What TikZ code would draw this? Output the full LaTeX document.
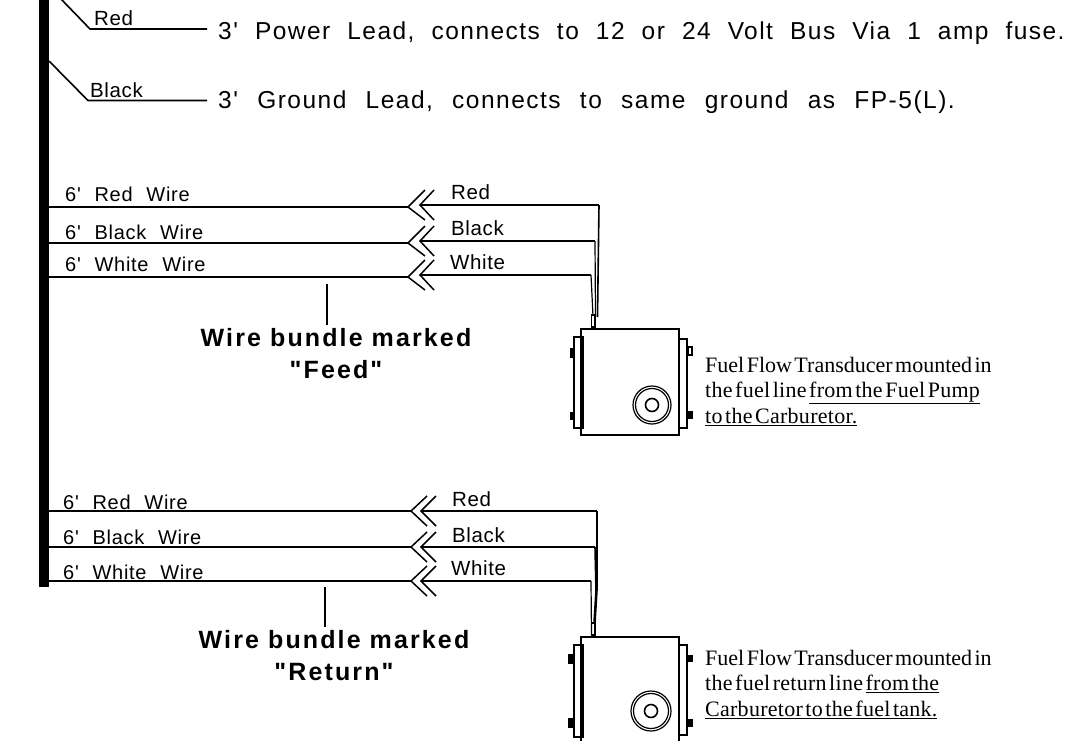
\documentclass[tikz,border=0pt]{standalone}
\usepackage{fontspec}
\setmainfont{Liberation Sans}
\newfontfamily\notefont[WordSpace=0.45]{Liberation Serif}
\newfontfamily\notewidefont[WordSpace=0.45,LetterSpace=1.2]{Liberation Serif}
\newfontfamily\leadfont[LetterSpace=6,WordSpace=2.06]{Liberation Sans}
\newfontfamily\groundfont[LetterSpace=6.1,WordSpace=2.32]{Liberation Sans}
\newfontfamily\wirefont[WordSpace=2.2,LetterSpace=3.5]{Liberation Sans}
\newfontfamily\colorfont[LetterSpace=3]{Liberation Sans}
\newfontfamily\markfont[LetterSpace=8.5]{Liberation Sans Bold}
\usepackage{tikz}

\tikzset{
  wire/.style={line width=1.6pt},
  thinwire/.style={line width=1.2pt},
  leadtext/.style={anchor=base west,inner sep=0pt,font=\leadfont\fontsize{24.5}{28}\selectfont},
  groundtext/.style={anchor=base west,inner sep=0pt,font=\groundfont\fontsize{24.5}{28}\selectfont},
  wiretext/.style={anchor=base west,inner sep=0pt,font=\wirefont\fontsize{20}{24}\selectfont},
  colortext/.style={anchor=base west,inner sep=0pt,font=\colorfont\fontsize{20.5}{24}\selectfont},
  marktext/.style={anchor=base,align=center,inner sep=0pt,font=\markfont\fontsize{25}{32}\selectfont},
  notetext/.style={anchor=base west,align=left,inner sep=0pt,font=\notefont\fontsize{22}{25.5}\selectfont},
  chevron/.style={line width=1.5pt},
}

\begin{document}
\begin{tikzpicture}[x=1pt,y=-1pt]
  \clip (0,0) rectangle (1090,740);
  \fill[white] (0,0) rectangle (1090,740);

  % Bus bar
  \fill[black] (39,0) rectangle (49,587);

  % Power and ground leads
  \coordinate (redstart) at (61,-1);
  \coordinate (redbend) at (90,29);
  \coordinate (redend) at (207,29);
  \coordinate (blackstart) at (49,61);
  \coordinate (blackbend) at (88,100.5);
  \coordinate (blackend) at (207,100.5);
  \draw[wire] (redstart) -- (redbend) -- (redend);
  \draw[wire] (blackstart) -- (blackbend) -- (blackend);
  \node[colortext] (redlead) at (94,25) {Red};
  \node[colortext] (blacklead) at (90,97) {Black};
  \node[leadtext] (powernote) at (218,39) {3' Power Lead, connects to 12 or 24 Volt Bus Via 1 amp fuse.};
  \node[groundtext] (groundnote) at (218,108) {3' Ground Lead, connects to same ground as FP-5(L).};

  % Feed wires
  \foreach \name/\y/\endx/\lx/\cy/\wy in {Red/205/599/451/199/201, Black/241/595/451/235/239, White/275/591/450/269/271} {
    \coordinate (feed\name left) at (49,\y+2);
    \coordinate (feed\name tip) at (408,\y+2);
    \coordinate (feed\name in) at (420,\y);
    \coordinate (feed\name corner) at (\endx,\y);
    \draw[wire] (feed\name left) -- (feed\name tip);
    \draw[wire] (feed\name in) -- (feed\name corner);
    \draw[chevron] (425,\y-15) -- (feed\name tip) -- (425,\y+15);
    \draw[chevron] (434,\y-15) -- (feed\name in) -- (434,\y+15);
    \node[colortext] (feed\name) at (\lx,\cy) {\name};
    \node[wiretext] (feed\name wire) at (65,\wy) {6' \name\ Wire};
  }
  \coordinate (feedmarktop) at (327,284);
  \coordinate (feedmarkend) at (327,325);
  \draw[thinwire] (feedmarktop) -- (feedmarkend);
  \node[marktext] (feedmark) at (336,378) {Wire bundle marked\\"Feed"};

  % Return wires
  \foreach \name/\y/\endx/\lx/\cy/\wy in {Red/511/597/452/506/509, Black/547/595/452/542/544, White/581/591/451/575/579} {
    \coordinate (return\name left) at (49,\y);
    \coordinate (return\name tip) at (411,\y);
    \coordinate (return\name in) at (421,\y);
    \coordinate (return\name corner) at (\endx,\y);
    \draw[wire] (return\name left) -- (return\name tip);
    \draw[wire] (return\name in) -- (return\name corner);
    \draw[chevron] (427,\y-15) -- (return\name tip) -- (427,\y+15);
    \draw[chevron] (436,\y-15) -- (return\name in) -- (436,\y+15);
    \node[colortext] (return\name) at (\lx,\cy) {\name};
    \node[wiretext] (return\name wire) at (63,\wy) {6' \name\ Wire};
  }
  \coordinate (returnmarktop) at (325,587);
  \coordinate (returnmarkend) at (325,627);
  \draw[thinwire] (returnmarktop) -- (returnmarkend);
  \node[marktext] (returnmark) at (334,680) {Wire bundle marked\\"Return"};

  % Feed transducer
  \draw[wire] (581,329) rectangle (679,435);
  \draw[wire] (574,337) rectangle (583,428);
  \draw[wire] (679,339) rectangle (687,428);
  \fill[black] (570,348) rectangle (574,358);
  \fill[black] (570,412) rectangle (574,420);
  \draw[wire] (688,347) rectangle (692,355);
  \fill[black] (687,411) rectangle (693,419);
  \draw[thinwire] (652,405) circle (19);
  \draw[thinwire] (652,405) circle (16.5);
  \draw[wire] (652,405) circle (6.5);
  \draw[thinwire] (591.5,327) rectangle (595,315);
  \draw[wire] (feedRedcorner) -- (597.5,317);
  \draw[thinwire] (feedBlackcorner) -- (595.5,316);
  \draw[thinwire] (feedWhitecorner) -- (593,316);

  % Return transducer
  \draw[wire] (581,637) rectangle (679,750);
  \draw[wire] (574,645) rectangle (583,737);
  \draw[wire] (679,645) rectangle (687,735);
  \fill[black] (568,654) rectangle (574,664);
  \fill[black] (568,718) rectangle (574,728);
  \fill[black] (687,655) rectangle (693,662);
  \fill[black] (687,719) rectangle (693,727);
  \draw[thinwire] (651,711) circle (20);
  \draw[thinwire] (651,711) circle (17.5);
  \draw[wire] (651,711) circle (6.5);
  \draw[thinwire] (591.5,635) rectangle (595,623);
  \draw[wire] (returnRedcorner) -- (597,590) -- (595,623);
  \draw[wire] (returnBlackcorner) -- (596,590) -- (594,623);
  \draw[thinwire] (returnWhitecorner) -- (591.5,635);

  % Notes
  \node[notetext] (feednote) at (705,423) {Fuel Flow Transducer mounted in\\{\notewidefont the fuel line \underline{from the Fuel Pump}}\\{\notewidefont\underline{to the Carburetor.}}};
  \node[notetext] (returnnote) at (705,716) {Fuel Flow Transducer mounted in\\{\notewidefont the fuel return line \underline{from the}}\\{\notewidefont\underline{Carburetor to the fuel tank.}}};
\end{tikzpicture}
\end{document}
